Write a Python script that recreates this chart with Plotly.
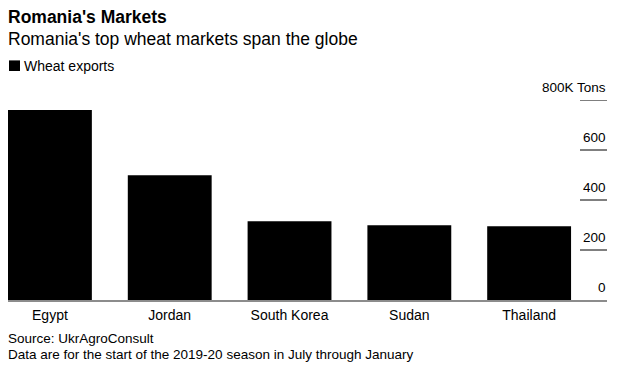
import plotly.graph_objects as go

# Data
countries = ["Egypt", "Jordan", "South Korea", "Sudan", "Thailand"]
wheat_exports = [760, 499, 315, 299, 295]  # thousand tons
y_ticks = [0, 200, 400, 600, 800]
y_tick_labels = ["0", "200", "400", "600", "800K Tons"]
series_name = "Wheat exports"

FONT = "Liberation Sans, Arial, sans-serif"
PLOT_W = 599.0

fig = go.Figure()
fig.add_trace(go.Bar(
    x=countries, y=wheat_exports, name=series_name,
    marker=dict(color="#000000", line=dict(width=0)),
    showlegend=False,
))

annotations = []
shapes = []
# y tick labels (right side, above short dashes)
for v, t in zip(y_ticks, y_tick_labels):
    annotations.append(dict(
        x=1, xref="paper", y=v, yref="y", xanchor="right", yanchor="bottom",
        text=t, showarrow=False, font=dict(family=FONT, size=13.5, color="#000"),
        yshift=4, borderpad=0,
    ))
    if v != 0:
        shapes.append(dict(
            type="line", xref="paper", x0=1 - 27 / PLOT_W, x1=1,
            yref="y", y0=v, y1=v, line=dict(color="#000", width=1),
        ))

# legend key (square + label)
shapes.append(dict(
    type="rect", xref="paper", x0=1 / PLOT_W, x1=12 / PLOT_W,
    yref="paper", y0=1.145, y1=1.198, fillcolor="#000", line=dict(width=0),
))
annotations.append(dict(
    x=15 / PLOT_W, xref="paper", y=1.172, yref="paper", xanchor="left", yanchor="middle",
    text=series_name, showarrow=False, borderpad=0,
    font=dict(family=FONT, size=14, color="#000"),
))

# title / subtitle / source
annotations += [
    dict(x=-1.5 / PLOT_W, xref="paper", y=1.4125, yref="paper", xanchor="left", yanchor="middle",
         text="<b>Romania's Markets</b>", showarrow=False, borderpad=0,
         font=dict(family=FONT, size=17.5, color="#000")),
    dict(x=-1.5 / PLOT_W, xref="paper", y=1.305, yref="paper", xanchor="left", yanchor="middle",
         text="Romania's top wheat markets span the globe", showarrow=False, borderpad=0,
         font=dict(family=FONT, size=17.5, color="#000")),
    dict(x=-1.5 / PLOT_W, xref="paper", y=-0.19, yref="paper", xanchor="left", yanchor="middle",
         text="Source: UkrAgroConsult", showarrow=False, borderpad=0,
         font=dict(family=FONT, size=13.5, color="#000")),
    dict(x=-1.5 / PLOT_W, xref="paper", y=-0.27, yref="paper", xanchor="left", yanchor="middle",
         text="Data are for the start of the 2019-20 season in July through January",
         showarrow=False, borderpad=0, font=dict(family=FONT, size=13.5, color="#000")),
]

fig.update_layout(
    width=621, height=371,
    margin=dict(l=0, r=22, t=92, b=79, pad=0),
    paper_bgcolor="white", plot_bgcolor="white",
    font=dict(family=FONT, color="#000"),
    bargap=0.3,
    showlegend=False,
    xaxis=dict(range=[-0.35, 4.65], showgrid=False, zeroline=False,
               showline=True, linecolor="#8c8c8c", linewidth=2,
               ticks="", tickfont=dict(family=FONT, size=14, color="#000"),
               ticklabelstandoff=1, fixedrange=True),
    yaxis=dict(range=[0, 800], showgrid=False, zeroline=False, showline=False,
               showticklabels=False, ticks="", fixedrange=True),
    annotations=annotations,
    shapes=shapes,
)

fig.write_html("out.html")
